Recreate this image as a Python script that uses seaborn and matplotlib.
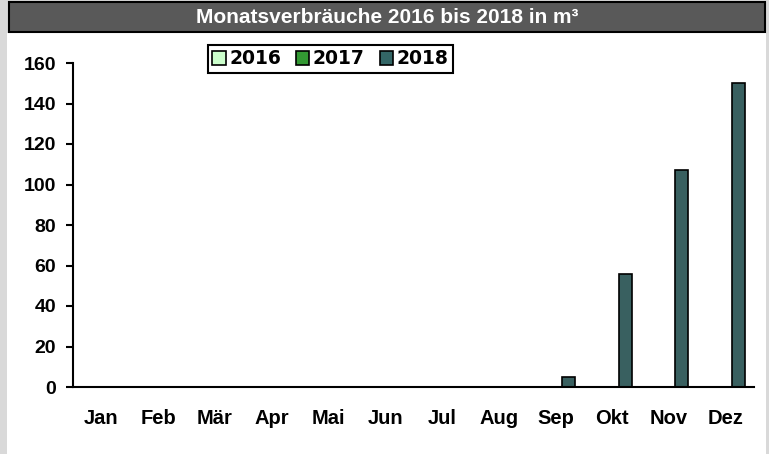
import numpy as np
import pandas as pd
import matplotlib
matplotlib.use("Agg")
import matplotlib.pyplot as plt
from matplotlib.patches import Rectangle
import seaborn as sns

months = ["Jan", "Feb", "Mär", "Apr", "Mai", "Jun", "Jul", "Aug", "Sep", "Okt", "Nov", "Dez"]
years = ["2016", "2017", "2018"]
v2016 = [0, 0, 0, 0, 0, 0, 0, 0, 0, 0, 0, 0]
v2017 = [0, 0, 0, 0, 0, 0, 0, 0, 0, 0, 0, 0]
v2018 = [0, 0, 0, 0, 0, 0, 0, 0, 5, 56, 107, 150]
yticks = [0, 20, 40, 60, 80, 100, 120, 140, 160]
colors = ["#ccffcc", "#339933", "#336666"]
title = "Monatsverbräuche 2016 bis 2018 in m³"

df = pd.DataFrame({
    "Monat": months * 3,
    "Jahr": [y for y in years for _ in months],
    "Verbrauch": v2016 + v2017 + v2018,
})

sns.set_theme(style="white")
plt.rcParams["font.family"] = ["Liberation Sans", "DejaVu Sans"]
plt.rcParams["font.weight"] = "bold"
plt.rcParams["text.color"] = "black"

W, H = 769, 454
fig = plt.figure(figsize=(W / 100, H / 100), dpi=100, facecolor="#d9d9d9")

# white chart panel and dark title bar (figure pixel coordinates)
def px_rect(x0, y0, x1, y1, **kw):
    return Rectangle((x0 / W, 1 - y1 / H), (x1 - x0) / W, (y1 - y0) / H,
                     transform=fig.transFigure, **kw)

fig.patches.append(px_rect(7, 33, 766, 454, facecolor="white", edgecolor="none", zorder=-2))
fig.patches.append(px_rect(9, 2, 765, 32, facecolor="#595959", edgecolor="black",
                           linewidth=1.5, zorder=-1))
fig.text(387 / W, 1 - 17.5 / H, title, color="white", fontsize=15, fontweight="bold",
         ha="center", va="center", zorder=3)

ax = fig.add_axes([73 / W, 1 - 387 / H, (754 - 73) / W, (387 - 63) / H])
ax.set_zorder(2)
ax.patch.set_visible(False)

sns.barplot(data=df, x="Monat", y="Verbrauch", hue="Jahr", order=months,
            hue_order=years, palette=colors, width=0.69, gap=0,
            edgecolor="black", linewidth=1.2, ax=ax, legend=False)

ax.set_xlim(-0.5, len(months) - 0.5)
ax.set_ylim(0, 160)
ax.set_yticks(yticks)
ax.set_yticklabels([str(t) for t in yticks], fontsize=14, fontweight="bold", color="black")
ax.set_xticks(range(len(months)))
ax.set_xticklabels(months, fontsize=14.5, fontweight="bold", color="black")
ax.set_xticks(np.arange(-0.5, len(months)), minor=True)
ax.tick_params(axis="x", which="major", length=0, pad=16)
ax.tick_params(axis="x", which="minor", length=5, width=1.5, color="black", direction="out")
ax.tick_params(axis="y", length=5, width=1.5, color="black", direction="out", left=True, pad=7)
ax.set_xlabel("")
ax.set_ylabel("")
for s in ["top", "right"]:
    ax.spines[s].set_visible(False)
for s in ["left", "bottom"]:
    ax.spines[s].set_color("black")
    ax.spines[s].set_linewidth(1.5)

handles = [Rectangle((0, 0), 1, 1, facecolor=c, edgecolor="black", linewidth=1.2) for c in colors]
leg = fig.legend(handles, years, loc="center", bbox_to_anchor=(330.5 / W, 1 - 59 / H),
                 ncol=3, frameon=True, fancybox=False,
                 handlelength=0.7, handleheight=0.7, handletextpad=0.2,
                 columnspacing=0.8, borderpad=0.22, borderaxespad=0,
                 labelcolor="black",
                 prop={"family": "DejaVu Sans", "weight": "bold", "size": 13.5})
leg.set_zorder(4)
leg.get_frame().set_edgecolor("black")
leg.get_frame().set_linewidth(1.5)
leg.get_frame().set_facecolor("white")
leg.get_frame().set_alpha(1)

fig.savefig("out.png", dpi=100, facecolor=fig.get_facecolor())
